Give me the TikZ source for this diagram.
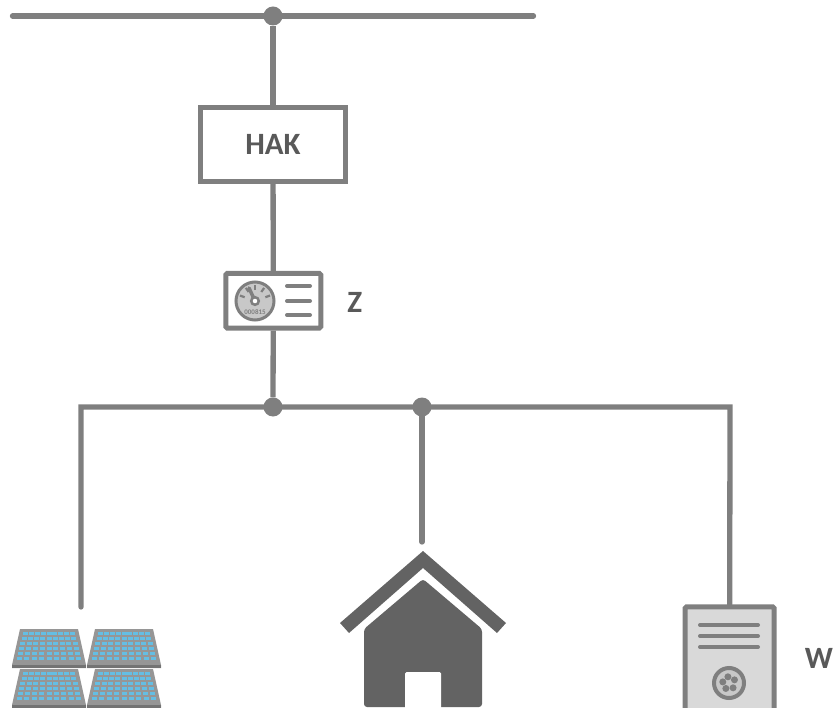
\documentclass[tikz,border=0pt]{standalone}
\usepackage{fontspec}
\setmainfont{Carlito}
\definecolor{linegray}{RGB}{127,127,127}
\definecolor{textgray}{RGB}{89,89,89}
\definecolor{housegray}{RGB}{99,99,99}
\definecolor{boxgray}{RGB}{217,217,217}
\definecolor{dialgray}{RGB}{200,200,200}
\definecolor{cellblue}{RGB}{100,190,228}
\definecolor{framegray}{RGB}{150,150,150}
\tikzset{
    wire/.style={draw=linegray,line width=5.3pt},
    joint/.style={circle,fill=linegray,minimum size=19pt,inner sep=0pt},
    caption/.style={text=textgray,font=\bfseries\fontsize{31}{31}\selectfont,inner sep=0pt},
    panel/.pic={
        \fill[framegray] (-29,0)--(29,0)--(37,36)--(37,39)--(-37,39)--(-37,36)--cycle;
        \foreach \r in {0,...,5}{
            \foreach \c in {0,...,8}{
                \pgfmathsetmacro{\v}{(\r+0.5)/6}
                \pgfmathsetmacro{\u}{(\c+0.5)/9-0.5}
                \pgfmathsetmacro{\w}{2*(26+8*\v)}
                \fill[cellblue] ({\u*\w-2.5},{2+30*\v-1.9}) rectangle ({\u*\w+2.5},{2+30*\v+1.9});
            }
        }
        \fill[black!55] (-37,36) rectangle (37,39);
    }
}
\begin{document}
\begin{tikzpicture}[x=1pt,y=-1pt]
    \useasboundingbox (0,0) rectangle (834,708);
    % grid line and house connection box
    \coordinate (busleft) at (12.5,16);
    \coordinate (busright) at (533.5,16);
    \node[joint] (busjoint) at (273,16) {};
    \node[draw=linegray,line width=5pt,minimum width=145pt,minimum height=74pt,inner sep=0pt,caption] (hak) at (273,144.5) {HAK};
    \node[draw=linegray,fill=white,line width=5pt,rounded corners=1.5pt,minimum width=95pt,minimum height=54.7pt,inner sep=0pt] (meter) at (273.3,300.8) {};
    \node[caption,anchor=base] (zlabel) at (354.8,312.5) {Z};
    \node[joint] (mainjoint) at (273,407) {};
    \node[joint] (housejoint) at (422,407) {};
    \coordinate (pvend) at (81,607);
    \coordinate (corner) at (81,407);
    \coordinate (wcorner) at (730,407);
    \coordinate (houseend) at (422,542);
    \node[draw=linegray,fill=boxgray,line width=5pt,rounded corners=1.5pt,minimum width=89pt,minimum height=130pt,inner sep=0pt,anchor=north] (wallbox) at (729.7,604.3) {};
    \node[caption,anchor=base] (wlabel) at (819,668) {W};
    % connections
    \draw[wire,line cap=round] (busleft)--(busright);
    \draw[wire] (busjoint)--(hak);
    \draw[wire] (hak)--(meter);
    \draw[wire] (meter)--(mainjoint);
    \draw[wire,line cap=round] (pvend)--(corner)--(wcorner)--(wallbox.north);
    \draw[wire,line cap=round] (housejoint)--(houseend);
    % meter
    \node[circle,draw=linegray,fill=dialgray,line width=3pt,minimum size=38pt,inner sep=0pt] (dial) at (255,301) {};
    \foreach \a in {-70,-35,0,35,70}{
        \draw[linegray,line width=2.2pt] (255,301) ++(\a-90:11) -- ++(\a-90:5);
    }
    \draw[linegray,line width=3.5pt,line cap=round] (255,301)--(249,288);
    \draw[linegray,fill=white,line width=2.5pt] (255,301) circle[radius=3.8];
    \node[text=linegray,font=\bfseries\fontsize{7}{7}\selectfont,inner sep=0pt] (dialtext) at (255,312.5) {000815};
    \foreach \y in {286,301,315}{
        \draw[linegray,line width=4pt,line cap=round] (287,\y)--(310,\y);
    }
    % wallbox
    \foreach \y in {625,636,647}{
        \draw[linegray,line width=4pt,line cap=round] (700,\y)--(758,\y);
    }
    \node[circle,draw=linegray,fill=dialgray,line width=4pt,minimum size=30pt,inner sep=0pt] (socket) at (729,683) {};
    \foreach \a in {50,120,190,260,330}{
        \fill[linegray] (729,683) ++(\a:6.3) circle[radius=3.5];
    }
    % house
    \fill[housegray] (423,551)--(506,623)--(497,633)--(423,568)--(349,633)--(340,623)--cycle;
    \fill[housegray,rounded corners=3pt] (423,579)--(482,629)--(482,707)--(364,707)--(364,629)--cycle;
    \fill[white,rounded corners=1.5pt] (405,712)--(405,672)--(441,672)--(441,712)--cycle;
    % solar panels
    \foreach \px/\py in {49/629,124/629,49/669,124/669}{
        \pic at (\px,\py) {panel};
    }
\end{tikzpicture}
\end{document}
